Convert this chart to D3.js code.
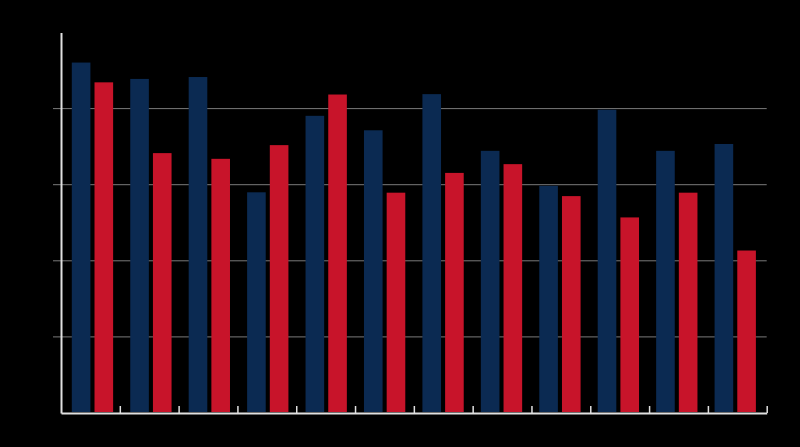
<!DOCTYPE html>
<html>
<head>
<meta charset="utf-8">
<script src="https://cdn.jsdelivr.net/npm/d3@7"></script>
<style>
  html, body { margin: 0; padding: 0; background: #000; }
  svg { display: block; }
</style>
</head>
<body>
<div id="chart"></div>
<script>
const categories = ['1', '2', '3', '4', '5', '6', '7', '8', '9', '10', '11', '12'];
const seriesA = [92.1, 87.8, 88.3, 58.0, 78.1, 74.3, 83.8, 68.9, 59.7, 79.7, 68.9, 70.7];
const seriesB = [86.9, 68.3, 66.8, 70.4, 83.7, 57.9, 63.1, 65.4, 57.0, 51.4, 57.9, 42.7];
const yTicks = [20, 40, 60, 80];

const width = 800;
const height = 447;
const margin = { top: 32.5, right: 33.3, bottom: 34, left: 61 };

const data = categories.map((c, i) => ({ name: c, a: seriesA[i], b: seriesB[i] }));
const keys = ['a', 'b'];
const colors = { a: '#0b2a52', b: '#c8142a' };

const svg = d3.select('#chart')
  .append('svg')
  .attr('width', width)
  .attr('height', height);

svg.append('rect')
  .attr('width', width)
  .attr('height', height)
  .attr('fill', '#000');

const x0 = d3.scaleBand()
  .domain(categories)
  .range([margin.left, width - margin.right])
  .paddingInner(0.293)
  .paddingOuter(0.185);

const x1 = d3.scaleBand()
  .domain(keys)
  .range([0, x0.bandwidth()])
  .paddingInner(0.18);

const y = d3.scaleLinear()
  .domain([0, 100])
  .range([height - margin.bottom, margin.top]);

// gridlines
svg.append('g')
  .selectAll('line')
  .data(yTicks)
  .join('line')
    .attr('x1', margin.left - 8)
    .attr('x2', width - margin.right)
    .attr('y1', d => y(d))
    .attr('y2', d => y(d))
    .attr('stroke', '#7a7a7a')
    .attr('stroke-width', 1);

// bars
svg.append('g')
  .selectAll('g')
  .data(data)
  .join('g')
    .attr('transform', d => `translate(${x0(d.name)},0)`)
  .selectAll('rect')
  .data(d => keys.map(k => ({ key: k, value: d[k] })))
  .join('rect')
    .attr('x', d => x1(d.key))
    .attr('y', d => y(d.value))
    .attr('width', x1.bandwidth())
    .attr('height', d => y(0) - y(d.value) - 1)
    .attr('fill', d => colors[d.key]);

// x axis: ticks at band boundaries, pointing up
const xi = d3.scaleLinear()
  .domain([0, categories.length])
  .range([margin.left, width - margin.right]);

svg.append('g')
  .attr('transform', `translate(0,${y(0)})`)
  .call(d3.axisBottom(xi)
    .tickValues(d3.range(1, categories.length + 1))
    .tickSizeInner(-7)
    .tickSizeOuter(0)
    .tickFormat(''))
  .call(g => g.select('.domain').attr('stroke', '#e0e0e0').attr('stroke-width', 2))
  .call(g => g.selectAll('.tick line').attr('stroke', '#e0e0e0').attr('stroke-width', 1.5));

// y axis
svg.append('g')
  .attr('transform', `translate(${margin.left},0)`)
  .call(d3.axisLeft(y)
    .tickValues(yTicks)
    .tickSize(0)
    .tickFormat(''))
  .call(g => g.select('.domain').attr('stroke', '#e0e0e0').attr('stroke-width', 2));
</script>
</body>
</html>
